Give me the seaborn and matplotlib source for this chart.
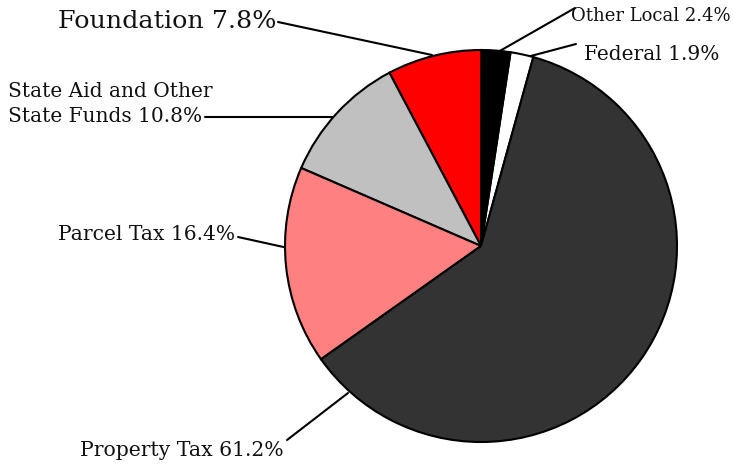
import numpy as np
from matplotlib import pyplot as plt
import seaborn as sns

# revenue sources, counter-clockwise from the Federal slice
sources = ["Federal", "Other Local", "Foundation", "State Aid and Other\nState Funds",
           "Parcel Tax", "Property Tax"]
shares = [1.9, 2.4, 7.8, 10.8, 16.4, 61.2]
colors = ["#ffffff", "#000000", "#ff0000", "#c0c0c0", "#ff8080", "#333333"]

sns.set_theme(style="white")
plt.rcParams['font.family'] = ['DejaVu Serif']

W, H = 733, 466
cx, cy, R = 481, 246, 196


def px(x, y):
    # pixel position in the reference -> data units (pie radius = 1)
    return ((x - cx) / R, (cy - y) / R)


fig = plt.figure(figsize=(W / 100, H / 100), dpi=100)
ax = fig.add_axes([0, 0, 1, 1])
ax.set_xlim(-cx / R, (W - cx) / R)
ax.set_ylim(-(H - cy) / R, cy / R)
ax.set_aspect("equal")
ax.axis("off")

start = 90 - (shares[0] + shares[1]) * 3.6
wedges, _ = ax.pie(shares, colors=colors, startangle=start, counterclock=True,
                   radius=1, center=(0, 0), frame=True,
                   wedgeprops=dict(edgecolor="black", linewidth=1.5))
for w in wedges:
    w.set_zorder(3)
ax.axis("off")

# label text: (label, text anchor px, ha, line start px, line end px, size)
labels = [
    ("Foundation", (276, 22), "right", (278, 22), (432, 55), 18.3),
    ("Other Local", (571, 16), "left", (575, 8), (498, 52), 13),
    ("Federal", (584, 55), "left", (576, 44), (527, 57), 14.5),
    ("State Aid and Other\nState Funds", (8, 104), "left", (205, 117), (336, 117), 14.5),
    ("Parcel Tax", (235, 235), "right", (238, 237), (288, 248), 14.6),
    ("Property Tax", (80, 451), "left", (287, 440), (348, 393), 14.7),
]
for name, pos, ha, p0, p1, size in labels:
    val = shares[sources.index(name)]
    tx, ty = px(*pos)
    ax.text(tx, ty, f"{name} {val}%", ha=ha, va="center", fontsize=size,
            color="#111111", linespacing=1.45, zorder=4)
    a, b = px(*p0), px(*p1)
    ax.plot([a[0], b[0]], [a[1], b[1]], color="black", lw=1.5, zorder=2)

fig.savefig("out.png", dpi=100)
